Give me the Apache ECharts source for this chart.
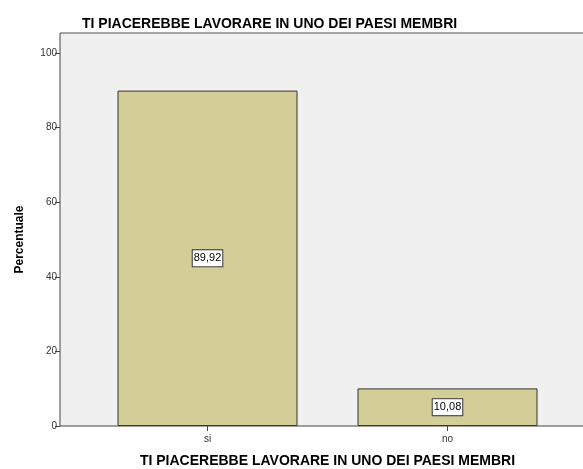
<!DOCTYPE html>
<html>
<head>
<meta charset="utf-8">
<script src="https://cdn.jsdelivr.net/npm/echarts@6/dist/echarts.min.js"></script>
<style>html,body{margin:0;padding:0;background:#fff;}#c{width:583px;height:469px;}</style>
</head>
<body>
<div id="c"></div>
<script>
var categories = ['si', 'no'];
var values = [89.92, 10.08];
var yTicks = [0, 20, 40, 60, 80, 100];
var titleText = 'TI PIACEREBBE LAVORARE IN UNO DEI PAESI MEMBRI';
var yName = 'Percentuale';

var FONT = '"Liberation Sans", Arial, sans-serif';
var chart = echarts.init(document.getElementById('c'), null, {renderer: 'canvas'});
var gridTop = 53, gridBottom = 43, gridLeft = 87.5, gridRight = 15.5;
var frameLeft = 60, frameTop = 33;
var axisY = 469 - gridBottom;
chart.setOption({
  animation: false,
  backgroundColor: '#fff',
  title: {
    text: titleText,
    left: 77, top: 12,
    textStyle: {fontFamily: FONT, fontSize: 14, fontWeight: 'bold', color: '#000'}
  },
  graphic: [
    {type: 'rect', z: -10, silent: true, shape: {x: frameLeft, y: frameTop, width: 600, height: axisY - frameTop}, style: {fill: '#F0F0F0'}},
    {type: 'line', z: 10, silent: true, shape: {x1: frameLeft, y1: frameTop, x2: 600, y2: frameTop}, style: {stroke: '#888', lineWidth: 1.5}},
    {type: 'line', z: 10, silent: true, shape: {x1: frameLeft, y1: frameTop, x2: frameLeft, y2: axisY}, style: {stroke: '#444', lineWidth: 1}},
    {type: 'line', z: 10, silent: true, shape: {x1: frameLeft, y1: axisY, x2: 600, y2: axisY}, style: {stroke: '#444', lineWidth: 1}}
  ],
  grid: {left: gridLeft, right: gridRight, top: gridTop, bottom: gridBottom, containLabel: false, outerBoundsMode: 'none'},
  xAxis: {
    type: 'category',
    data: categories,
    name: titleText,
    nameLocation: 'middle',
    nameGap: 28,
    nameTextStyle: {fontFamily: FONT, fontSize: 14, fontWeight: 'bold', color: '#000'},
    axisLine: {show: false},
    axisTick: {show: true, alignWithLabel: true, length: 5, lineStyle: {color: '#444'}},
    axisLabel: {fontFamily: FONT, fontSize: 10, color: '#333', margin: 8}
  },
  yAxis: {
    type: 'value',
    min: yTicks[0], max: yTicks[yTicks.length - 1], interval: 20,
    offset: gridLeft - frameLeft,
    name: yName,
    nameLocation: 'middle',
    nameGap: 34,
    nameTextStyle: {fontFamily: FONT, fontSize: 12, fontWeight: 'bold', color: '#000'},
    axisLine: {show: false},
    axisTick: {show: true, length: 5, lineStyle: {color: '#444'}},
    axisLabel: {fontFamily: FONT, fontSize: 10, color: '#333', margin: 3},
    splitLine: {show: false}
  },
  series: [{
    type: 'bar',
    data: values,
    barWidth: '75%',
    itemStyle: {color: '#D3CE97', borderColor: '#333', borderWidth: 1},
    label: {
      show: true, position: 'inside',
      formatter: function (p) { return p.value.toFixed(2).replace('.', ','); },
      fontFamily: FONT, fontSize: 11, color: '#000',
      backgroundColor: '#fff', borderColor: '#333', borderWidth: 1, padding: [3, 1, 2, 1]
    }
  }]
});
</script>
</body>
</html>
